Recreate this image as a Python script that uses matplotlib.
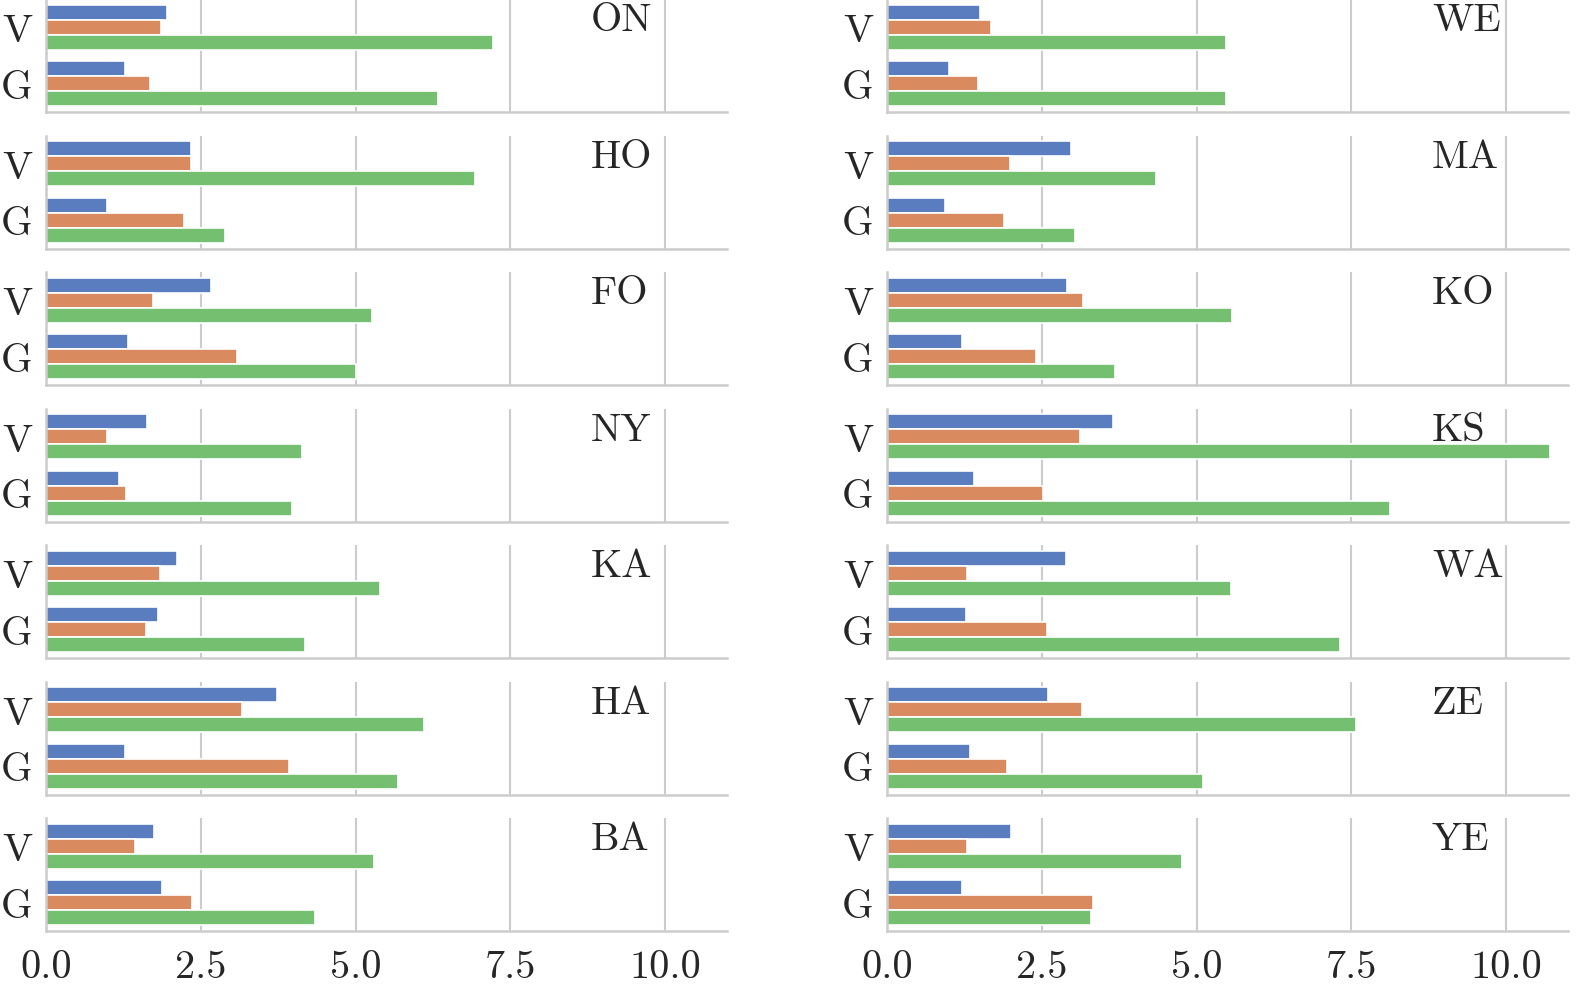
import matplotlib
matplotlib.use("Agg")
import matplotlib.pyplot as plt
import numpy as np
import seaborn as sns

# Daten
groups = ["V", "G"]
left_panels = ["ON", "HO", "FO", "NY", "KA", "HA", "BA"]
right_panels = ["WE", "MA", "KO", "KS", "WA", "ZE", "YE"]

# je Panel: [V, G] für die drei Serien
left_blue = [[1.95, 1.28], [2.34, 0.99], [2.67, 1.32], [1.63, 1.18], [2.12, 1.81], [3.73, 1.28], [1.74, 1.87]]
left_orange = [[1.86, 1.68], [2.34, 2.23], [1.73, 3.09], [0.99, 1.29], [1.84, 1.62], [3.17, 3.93], [1.44, 2.36]]
left_green = [[7.22, 6.33], [6.93, 2.89], [5.27, 5.01], [4.14, 3.97], [5.40, 4.18], [6.11, 5.69], [5.30, 4.35]]

right_blue = [[1.50, 1.00], [2.97, 0.94], [2.90, 1.21], [3.65, 1.40], [2.89, 1.27], [2.60, 1.34], [2.00, 1.21]]
right_orange = [[1.68, 1.47], [1.98, 1.89], [3.16, 2.40], [3.11, 2.52], [1.29, 2.58], [3.15, 1.94], [1.29, 3.32]]
right_green = [[5.48, 5.48], [4.34, 3.03], [5.58, 3.69], [10.71, 8.13], [5.55, 7.31], [7.58, 5.11], [4.77, 3.29]]

xticks = [0.0, 2.5, 5.0, 7.5, 10.0]

sns.set_style("whitegrid")
plt.rcParams["font.family"] = "serif"
plt.rcParams["font.serif"] = ["cmr10"]
plt.rcParams["axes.formatter.use_mathtext"] = True

colors = [sns.desaturate(c, 0.75) for c in sns.color_palette("muted")[:3]]

W, H = 1594, 1003
fig = plt.figure(figsize=(W / 100, H / 100), dpi=100)

columns = [
    (46, left_panels, left_blue, left_orange, left_green),
    (887, right_panels, right_blue, right_orange, right_green),
]

y = np.arange(len(groups))
bh = 0.8 / 3

for x0, names, blue, orange, green in columns:
    for i, name in enumerate(names):
        top = 136.5 * i
        ax = fig.add_axes([x0 / W, 1 - (top + 113) / H, 681 / W, 113 / H])
        for k, series in enumerate([blue, orange, green]):
            ax.barh(y + (k - 1) * bh, series[i], height=bh, color=colors[k],
                    edgecolor="white", linewidth=1.2, zorder=2)
        ax.set_xlim(0, 11)
        ax.set_ylim(1.5, -0.5)
        ax.set_yticks(y)
        ax.set_yticklabels(groups)
        ax.set_xticks(xticks)
        if i < len(names) - 1:
            ax.set_xticklabels([])
        else:
            ax.set_xticklabels([f"{t:.1f}" for t in xticks])
        ax.tick_params(axis="both", labelsize=29, length=0)
        ax.tick_params(axis="y", pad=10)
        ax.tick_params(axis="x", pad=13)
        ax.grid(axis="y", visible=False)
        ax.grid(axis="x", color="#cccccc", linewidth=1.5, zorder=0)
        ax.set_axisbelow(True)
        for s in ["top", "right"]:
            ax.spines[s].set_visible(False)
        for s in ["left", "bottom"]:
            ax.spines[s].set_color("#cccccc")
            ax.spines[s].set_linewidth(1.8)
        ax.text(0.8, 0.97, name, transform=ax.transAxes, ha="left", va="top",
                fontsize=29)

fig.savefig("out.png", dpi=100)
